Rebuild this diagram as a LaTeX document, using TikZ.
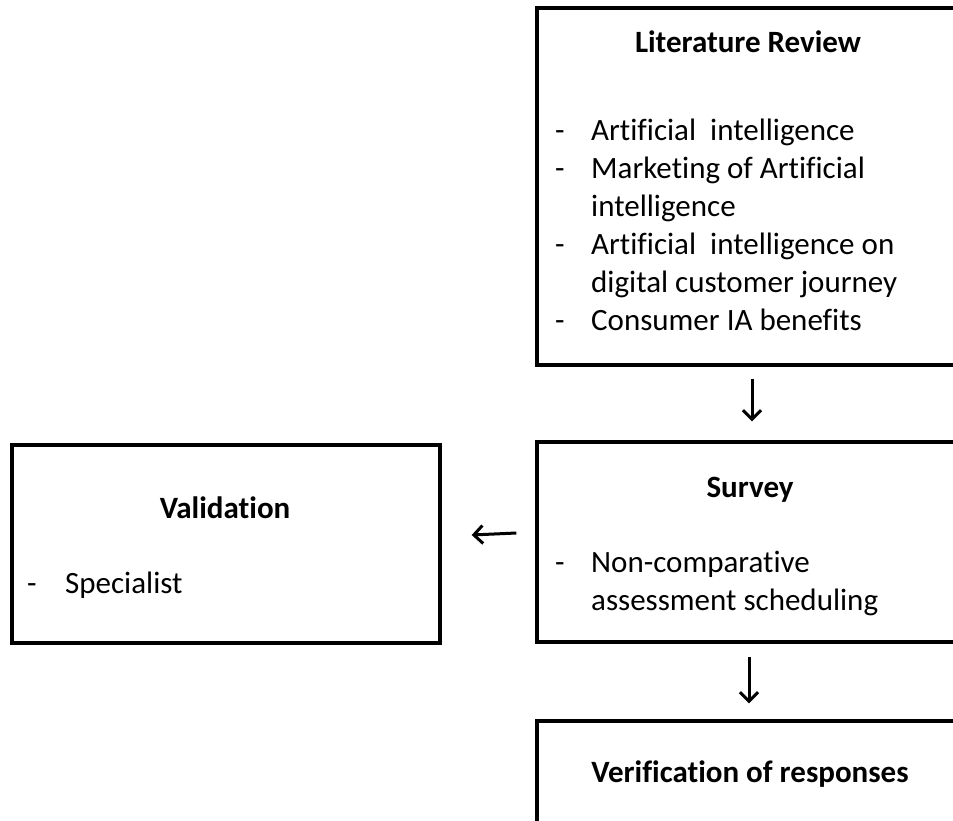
\documentclass[tikz,border=0pt]{standalone}
\usepackage{fontspec}
\setmainfont[Ligatures={NoCommon,NoRare,NoContextual}]{Carlito}
\usetikzlibrary{arrows.meta}
\begin{document}
\begin{tikzpicture}[x=1pt,y=1pt,
  box/.style={draw, line width=3.4pt, minimum width=420pt, inner sep=0pt},
  ttl/.style={font=\fontsize{31}{38}\selectfont\bfseries, anchor=base, inner sep=0pt},
  lst/.style={font=\fontsize{31}{38}\selectfont, anchor=base west, inner sep=0pt},
  flow/.style={line width=3pt, -{Straight Barb[length=9pt,width=18pt]}}]
\useasboundingbox (0,0) rectangle (953,-820);
\clip (0,0) rectangle (953,-820);
\node[box, minimum height=357pt] (lit) at (747,-186.5){};
\node[ttl] (littitle) at (748,-52){Literature Review};
\node[lst] (litlist) at (555,-140){\begin{tabular}[t]{@{}p{36pt}@{}l@{}}
- & Artificial\ \ intelligence\\
- & Marketing of Artificial\\
  & intelligence\\
- & Artificial\ \ intelligence on\\
  & digital customer journey\\
- & Consumer IA benefits
\end{tabular}};

\node[box, minimum height=200pt] (survey) at (747,-542){};
\node[ttl] (surveytitle) at (750,-497){Survey};
\node[lst] (surveylist) at (555,-572){\begin{tabular}[t]{@{}p{36pt}@{}l@{}}
- & Non-comparative\\
  & assessment scheduling
\end{tabular}};

\node[box, minimum width=428pt, minimum height=198pt] (valid) at (226,-544){};
\node[ttl] (validtitle) at (225,-518){Validation};
\node[lst] (validlist) at (27,-593){\begin{tabular}[t]{@{}p{38pt}@{}l@{}}
- & Specialist
\end{tabular}};

\node[box, minimum height=119pt] (verif) at (747,-780.5){};
\node[ttl] (veriftitle) at (750,-782){Verification of responses};

\draw[flow] ([xshift=5pt,yshift=-12pt]lit.south) -- ([xshift=5pt,yshift=19pt]survey.north);
\draw[flow] ([xshift=-19pt,yshift=9pt]survey.west) -- ([xshift=30pt,yshift=9pt]valid.east);
\draw[flow] ([xshift=2pt,yshift=-13pt]survey.south) -- ([xshift=2pt,yshift=16pt]verif.north);
\end{tikzpicture}
\end{document}
